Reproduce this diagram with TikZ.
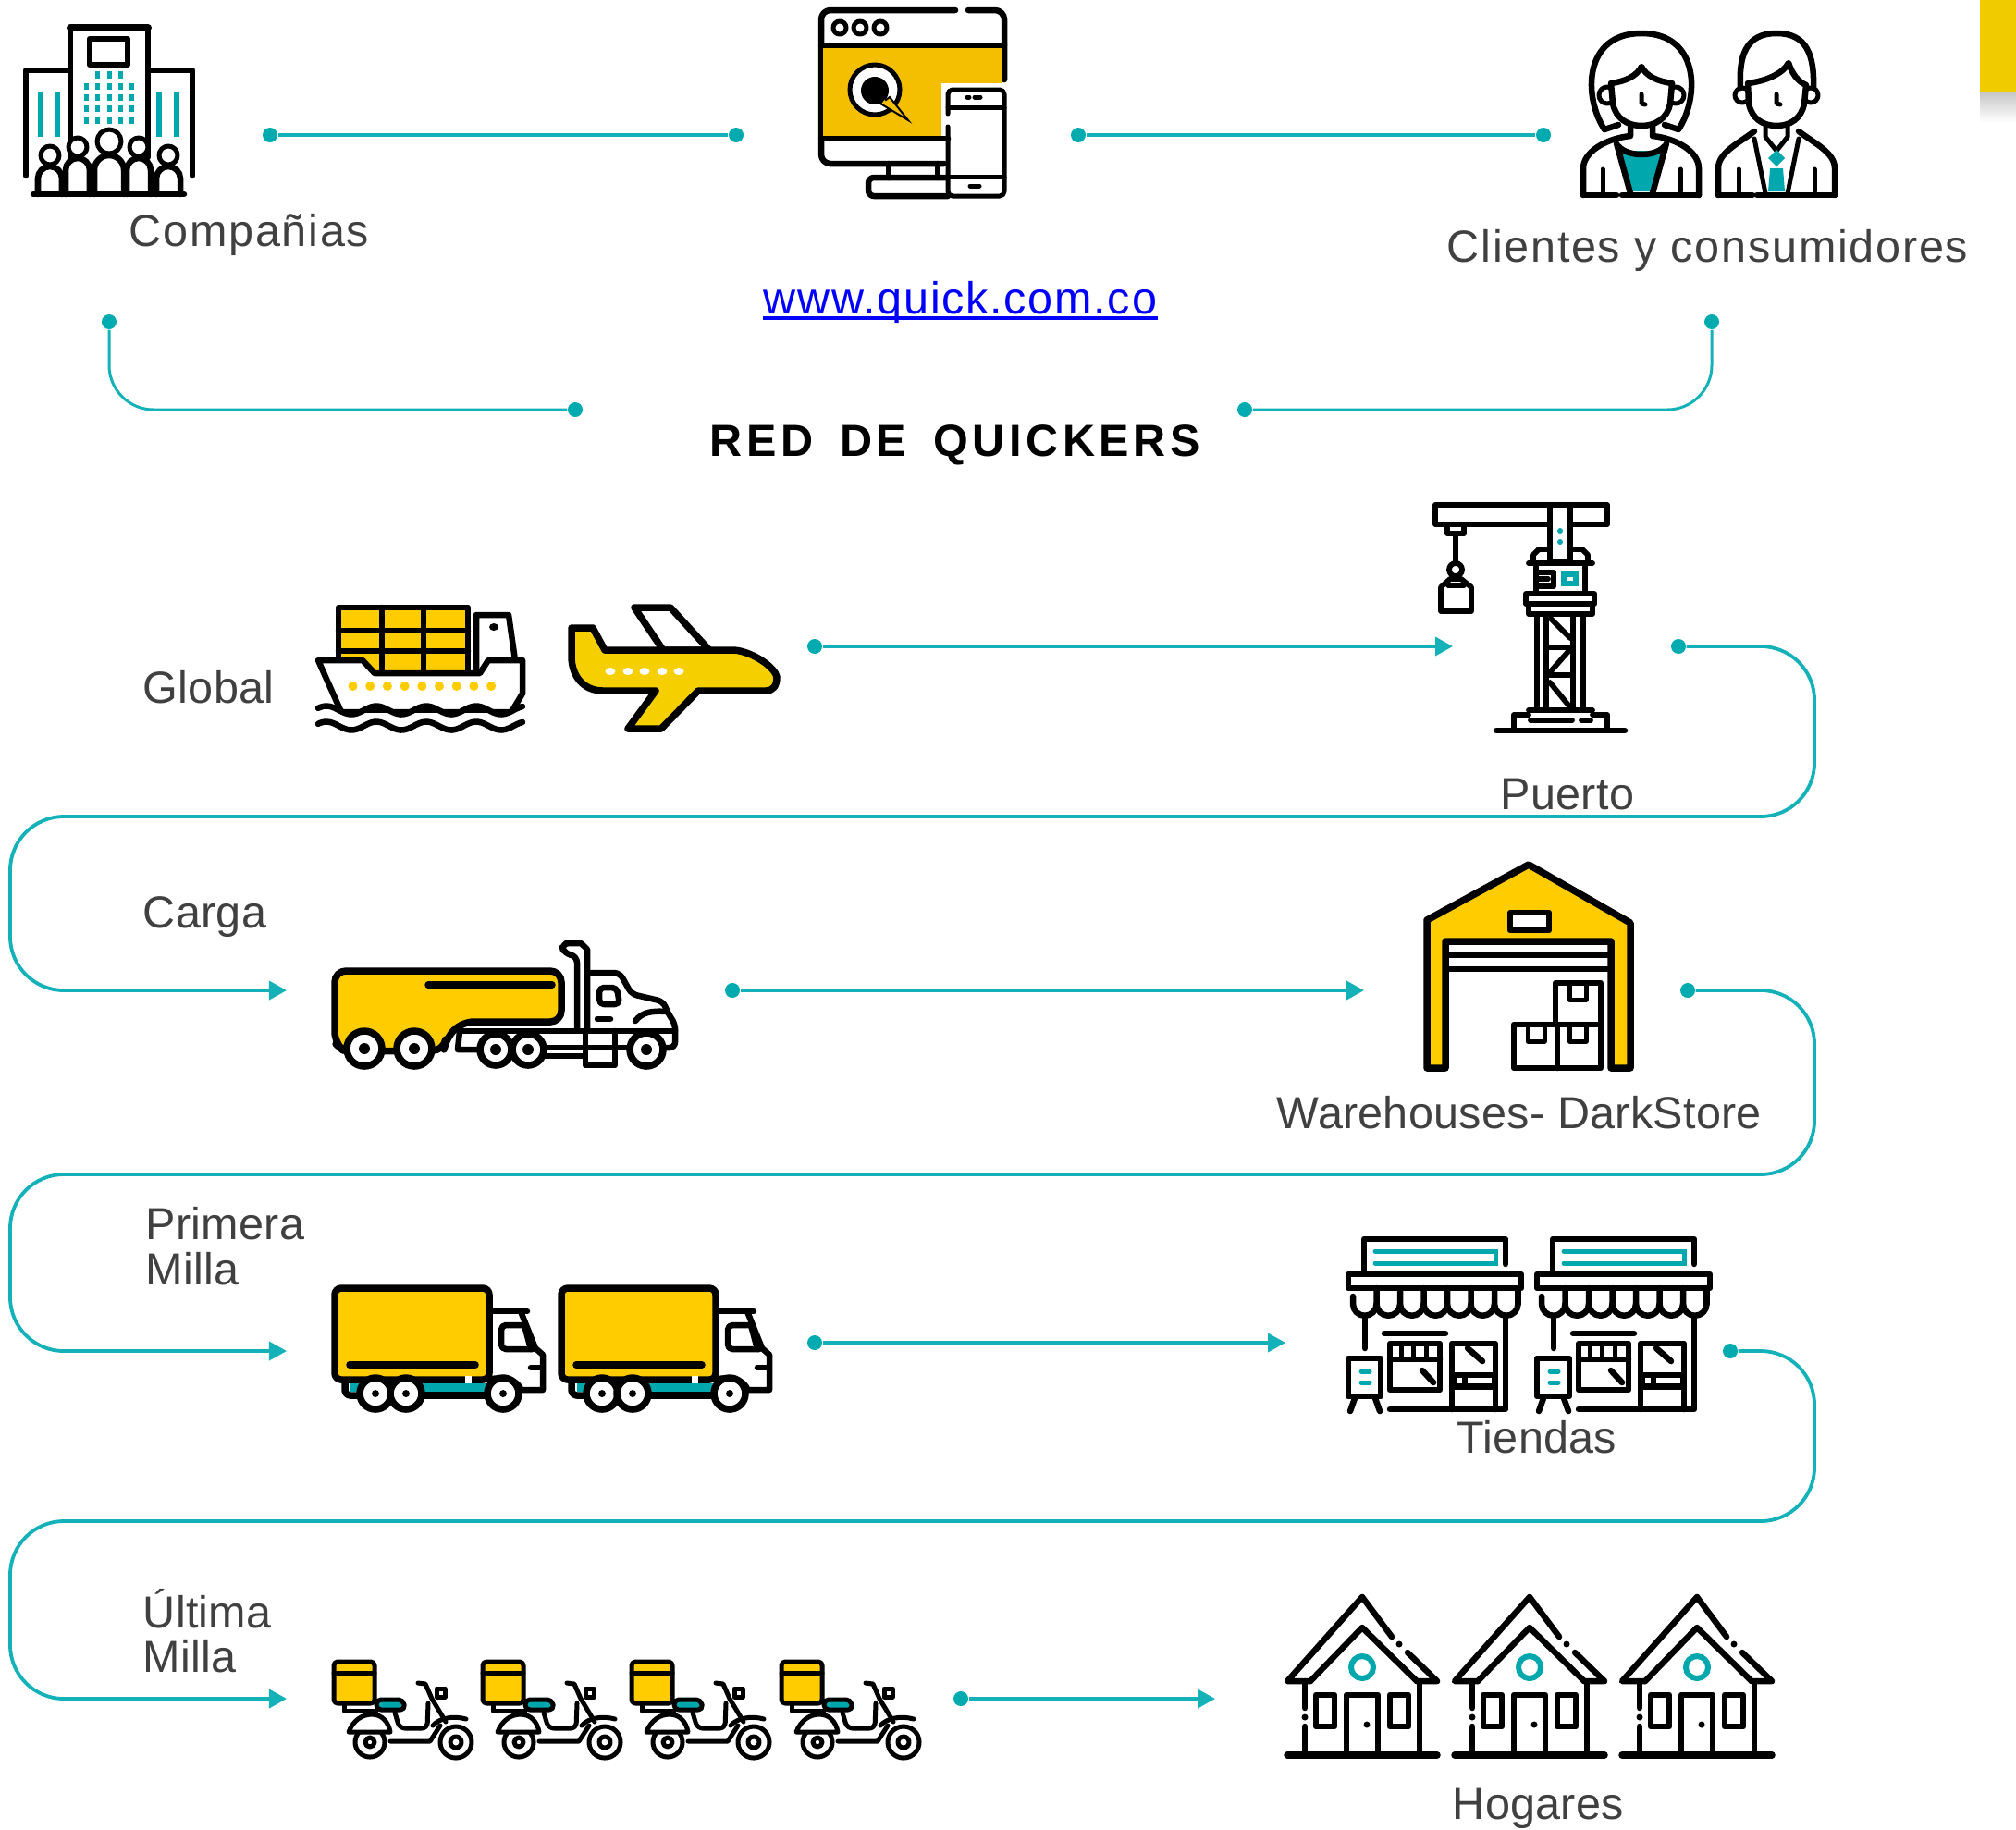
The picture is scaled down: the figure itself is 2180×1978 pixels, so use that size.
\documentclass[tikz,border=0pt]{standalone}
\usepackage{fontspec}
\usepackage{xcolor}
\usetikzlibrary{arrows.meta}
\setmainfont{Liberation Sans}
\newfontfamily\labelfont{Liberation Sans}[LetterSpace=0.6]
\newfontfamily\widefont{Liberation Sans}[LetterSpace=3.6]
\newfontfamily\titlefont{Liberation Sans}[LetterSpace=9.5,WordSpace=1.6]
\definecolor{flowteal}{HTML}{14B2B8}
\definecolor{dotteal}{HTML}{00ABB0}
\definecolor{iconteal}{HTML}{00A7AD}
\definecolor{iconyellow}{HTML}{FFCC00}
\definecolor{planeyellow}{HTML}{F6CF00}
\definecolor{webyellow}{HTML}{F4BF00}
\definecolor{cornerbox}{HTML}{EFCB00}
\definecolor{labelgray}{HTML}{404040}

\tikzset{
  icon/.style={draw=black, line width=0.065cm, line join=round, line cap=round},
  heavyicon/.style={icon, line width=0.075cm},
  crane/.style={icon, line width=0.058cm},
  thinicon/.style={icon, line width=0.05cm},
  flowline/.style={draw=flowteal, line width=0.038cm},
  flowarrow/.style={flowline, -{Triangle[length=0.19cm,width=0.2cm]}},
  dotnode/.style={circle, fill=dotteal, inner sep=0pt, minimum size=0.16cm},
  labelnode/.style={anchor=base west, inner sep=0pt, text=labelgray, font=\labelfont\fontsize{13.8}{14}\selectfont},
  widenode/.style={labelnode, font=\widefont\fontsize{13.8}{14}\selectfont},
}
\newcommand{\wheelicon}[4]{%
  \draw[heavyicon, fill=white] (#1,#2) circle[radius=#3];
  \fill (#1,#2) circle[radius=#4];}

\tikzset{
  building/.pic={
    \draw[icon, fill=white] (28,190) -- (28,76) -- (208,76) -- (208,190);
    \draw[icon, fill=white] (76,170) -- (76,30) -- (160,30) -- (160,170);
    \draw[icon, line width=0.08cm] (76,30) -- (160,30);
    \draw[icon] (97,42) rectangle (138,70);
    \foreach \x in {44,62,172,191} \draw[iconteal, line width=0.06cm] (\x,99) -- (\x,148);
    \foreach \x in {105,118,130} \fill[iconteal] (\x-2.5,77) rectangle (\x+2.5,85);
    \foreach \y in {93,105,117,130} \foreach \x in {93,105,118,130,142}
      \fill[iconteal] (\x-2.5,\y-3.5) rectangle (\x+2.5,\y+3.5);
    \foreach \x/\y/\w/\r in {54/168/13/10, 182/168/13/10, 84/159/13/10, 150/159/13/10, 118/153/16/13} {
      \draw[thinicon, fill=white] (\x,\y) circle[radius=\r];
      \draw[icon, fill=white] (\x-\w,210) -- (\x-\w,\y+\r+\w+2) arc[start angle=180, end angle=360, radius=\w] -- (\x+\w,210);
    }
    \draw[icon] (36,210) -- (199,210);
  },
  webscreen/.pic={
    \draw[icon, rounded corners=0.1cm] (1033,11) -- (888,11) -- (888,177) -- (1021,177);
    \draw[icon, rounded corners=0.1cm] (1047,11) -- (1086,11) -- (1086,86);
    \fill[webyellow] (890,50) rectangle (1084,90);
    \fill[webyellow] (890,90) rectangle (1018,147);
    \draw[icon] (888,49) -- (1086,49);
    \draw[icon] (888,150) -- (1025,150);
    \foreach \x in {908,930,952} \draw[thinicon] (\x,30) circle[radius=7];
    \draw[thinicon, fill=white] (946,97) circle[radius=27];
    \fill (946,98) circle[radius=15];
    \draw[line width=0.02cm, fill=webyellow] (940,86) -- (958,108) -- (962,105) -- (982,130) -- (952,112) -- (955,108) -- cycle;
    % phone
    \draw[thinicon, rounded corners=0.05cm] (1025,123) -- (1025,97) -- (1086,97) -- (1086,212) -- (1025,212) -- (1025,137);
    \draw[thinicon] (1025,116) -- (1086,116);
    \draw[thinicon] (1025,191) -- (1086,191);
    \draw[thinicon] (1046,105) -- (1048,105);
    \draw[thinicon] (1054,105) -- (1060,105);
    \draw[thinicon] (1049,201) -- (1059,201);
    \draw[icon] (961,177) -- (961,192);
    \draw[icon] (1014,177) -- (1014,192);
    \draw[icon, rounded corners=0.06cm] (1025,192) -- (939,192) -- (939,212) -- (1025,212);
  },
  clientes/.pic={
    % woman
    \draw[icon] (1735,140) .. controls (1712,105) and (1712,36) .. (1775,36) .. controls (1838,36) and (1838,105) .. (1815,140) -- (1800,135);
    \draw[icon] (1735,140) -- (1750,135);
    \draw[thinicon] (1738,103) circle[radius=9];
    \draw[thinicon] (1812,103) circle[radius=9];
    \draw[icon, fill=white] (1742,90) .. controls (1758,88) and (1770,82) .. (1775,72) .. controls (1780,82) and (1792,88) .. (1808,90) -- (1806,112) .. controls (1803,128) and (1790,136) .. (1775,136) .. controls (1760,136) and (1747,128) .. (1744,112) -- cycle;
    \draw[thinicon] (1775,102) -- (1775,112) -- (1779,113);
    \fill[iconteal] (1751,163) -- (1799,163) -- (1785,207) -- (1765,207) -- cycle;
    \draw[icon] (1712,211) -- (1712,182) .. controls (1712,165) and (1735,150) .. (1763,147) -- (1763,136);
    \draw[icon] (1837,211) -- (1837,182) .. controls (1837,165) and (1815,150) .. (1787,147) -- (1787,136);
    \draw[icon] (1750,158) .. controls (1760,170) and (1790,170) .. (1800,158);
    \draw[icon] (1748,155) -- (1763,209);
    \draw[icon] (1802,155) -- (1787,209);
    \draw[thinicon] (1733,183) -- (1733,207);
    \draw[thinicon] (1817,183) -- (1817,207);
    \draw[icon] (1712,211) -- (1748,211);
    \draw[icon] (1754,211) -- (1837,211);
    % man
    \draw[icon] (1882,95) .. controls (1880,60) and (1888,36) .. (1921,36) .. controls (1954,36) and (1962,60) .. (1961,95);
    \draw[thinicon] (1884,103) circle[radius=8];
    \draw[thinicon] (1958,103) circle[radius=8];
    \draw[icon, fill=white] (1890,90) .. controls (1908,88) and (1928,80) .. (1934,68) .. controls (1938,80) and (1944,88) .. (1953,92) -- (1951,112) .. controls (1948,128) and (1936,136) .. (1921,136) .. controls (1906,136) and (1894,128) .. (1891,112) -- cycle;
    \draw[thinicon] (1921,102) -- (1921,112) -- (1925,113);
    \draw[icon] (1858,211) -- (1858,182) .. controls (1858,165) and (1880,155) .. (1897,142);
    \draw[icon] (1984,211) -- (1984,182) .. controls (1984,165) and (1962,155) .. (1945,142);
    \draw[thinicon] (1909,136) -- (1909,148) -- (1921,163) -- (1933,148) -- (1933,136);
    \fill[iconteal] (1921,162) -- (1930,171) -- (1921,180) -- (1912,171) -- cycle;
    \fill[iconteal] (1914,182) -- (1928,182) -- (1930,207) -- (1912,207) -- cycle;
    \draw[thinicon] (1897,150) -- (1909,209);
    \draw[thinicon] (1945,150) -- (1933,209);
    \draw[thinicon] (1880,183) -- (1880,207);
    \draw[thinicon] (1962,183) -- (1962,207);
    \draw[icon] (1858,211) -- (1895,211);
    \draw[icon] (1900,211) -- (1984,211);
  },
  containership/.pic={
    \fill[iconyellow] (366,657) rectangle (506,727);
    \draw[icon] (366,727) -- (366,657) -- (506,657) -- (506,727);
    \foreach \x in {413,458} \draw[icon] (\x,657) -- (\x,727);
    \foreach \y in {682,704} \draw[icon] (366,\y) -- (506,\y);
    \draw[icon, fill=white] (515,725) -- (515,665) -- (550,665) -- (557,714);
    \fill (534,678) ellipse[x radius=5, y radius=4];
    \draw[icon, fill=white] (344,714) -- (392,714) -- (405,728) -- (519,728) -- (528,714) -- (565,714) -- (565,750) -- (553,770) -- (369,770) -- cycle;
    \foreach \i in {0,...,8} \fill[iconyellow] ({381.5+18.7*\i},742) circle[radius=5];
    \fill[white] (344,771) rectangle (565,778);
    \foreach \y in {768,785}
      \draw[icon, domain=344:565, samples=70, smooth] plot (\x,{\y+4.5*cos(6.67*(\x-344)+120)});
  },
  airplane/.pic={
    \draw[heavyicon, fill=white] (686,657) -- (725,657) -- (767,703) -- (717,703) -- cycle;
    \draw[heavyicon, fill=planeyellow] (618,679) -- (641,679) -- (654,703) -- (794,703) .. controls (815,705) and (838,722) .. (840,732) .. controls (840,742) and (836,747) .. (828,747) -- (755,747) -- (715,788) -- (679,788) -- (709,747) -- (652,747) .. controls (630,747) and (618,730) .. (618,710) -- cycle;
    \foreach \x in {660,679,697,716,734} \fill[white] (\x,726) ellipse[x radius=5.5, y radius=4];
  },
  portcrane/.pic={
    \draw[crane] (1552,546) rectangle (1738,567);
    \draw[crane, fill=white] (1676,546) rectangle (1698,608);
    \foreach \y in {574,586} \fill[iconteal] (1687,\y) circle[radius=3];
    \draw[crane] (1565,567) -- (1565,577) -- (1583,577) -- (1583,567);
    \draw[crane] (1574,577) -- (1574,609);
    \draw[crane] (1574,616) circle[radius=7];
    \draw[crane, fill=white] (1558,661) -- (1558,635) -- (1568,626) -- (1580,626) -- (1591,635) -- (1591,661) -- cycle;
    \draw[crane] (1566,633) -- (1583,633);
    \draw[crane] (1658,609) -- (1658,600) -- (1664,594) -- (1676,594);
    \draw[crane] (1717,609) -- (1717,600) -- (1711,594) -- (1698,594);
    \draw[crane] (1653,609) -- (1722,609);
    \draw[crane] (1661,609) -- (1661,640);
    \draw[crane] (1714,609) -- (1714,640);
    \fill[iconteal] (1688,618) rectangle (1707,634);
    \fill[white] (1694,624) rectangle (1701,628);
    \draw[crane] (1662,619) -- (1680,619) -- (1680,634) -- (1662,634);
    \draw[crane] (1662,626) -- (1674,626);
    \draw[crane] (1650,642) rectangle (1724,653);
    \draw[crane] (1653,653) rectangle (1722,664);
    \foreach \x in {1662,1672,1701,1712} \draw[crane] (\x,664) -- (\x,768);
    \foreach \y in {700,730} \draw[crane] (1672,\y) -- (1701,\y);
    \draw[crane] (1676,668) -- (1698,690);
    \draw[crane] (1698,702) -- (1676,727);
    \draw[crane] (1676,738) -- (1698,765);
    \draw[crane] (1637,787) -- (1637,773) -- (1653,773);
    \draw[crane] (1738,787) -- (1738,773) -- (1722,773);
    \draw[crane] (1653,768) -- (1722,768);
    \draw[crane] (1655,779) -- (1700,779);
    \draw[crane] (1710,779) -- (1720,779);
    \draw[icon] (1618,790) -- (1757,790);
  },
  tankertruck/.pic={
    % tank
    \draw[heavyicon, fill=iconyellow, rounded corners=0.12cm] (450,1050) -- (607,1050) -- (607,1105) -- (500,1105) -- (482,1123) -- (480,1136) -- (372,1137) -- (362,1128) -- (362,1050) -- cycle;
    \draw[heavyicon] (463,1065) -- (597,1065);
    \wheelicon{394}{1134}{19}{6}
    \wheelicon{448}{1134}{19}{6}
    % cab
    \draw[icon, rounded corners=0.08cm] (624,1113) -- (624,1033) -- (610,1032) -- (607,1020) -- (620,1020) .. controls (628,1020) and (635,1026) .. (635,1035) -- (635,1113);
    \draw[icon, rounded corners=0.06cm] (635,1052) -- (670,1052) -- (683,1075) -- (717,1083) -- (723,1097) -- (730,1107) -- (730,1133) -- (720,1133);
    \draw[icon, rounded corners=0.05cm] (648,1068) -- (667,1068) -- (670,1086) -- (648,1086) -- cycle;
    \draw[icon] (646,1102) -- (660,1102);
    \draw[icon] (687,1104) .. controls (695,1094) and (705,1093) .. (722,1094);
    \draw[icon] (497,1115) -- (730,1115);
    \draw[icon] (497,1115) -- (495,1135) -- (520,1135);
    \draw[icon] (590,1142) -- (630,1142);
    \draw[icon] (590,1133) -- (690,1133);
    \draw[icon] (633,1115) -- (633,1152) -- (665,1152) -- (665,1115);
    \draw[icon] (633,1133) -- (665,1133);
    \wheelicon{536}{1135}{17}{6}
    \wheelicon{571}{1135}{17}{6}
    \wheelicon{699}{1135}{18}{6}
  },
  warehouse/.pic={
    \draw[heavyicon, fill=iconyellow] (1543,995) -- (1653,935) -- (1763,998) -- (1763,1155) -- (1742,1155) -- (1742,1018) -- (1563,1018) -- (1563,1155) -- (1543,1155) -- cycle;
    \draw[icon, fill=white] (1633,987) rectangle (1675,1006);
    \foreach \y in {1033,1048} \draw[icon] (1563,\y) -- (1742,\y);
    \draw[icon] (1682,1108) -- (1682,1063) -- (1731,1063) -- (1731,1155) -- (1637,1155) -- (1637,1108) -- (1731,1108);
    \draw[icon] (1684,1108) -- (1684,1155);
    \draw[thinicon] (1697,1063) -- (1697,1081) -- (1715,1081) -- (1715,1063);
    \draw[thinicon] (1652,1108) -- (1652,1126) -- (1670,1126) -- (1670,1108);
    \draw[thinicon] (1697,1108) -- (1697,1126) -- (1715,1126) -- (1715,1108);
  },
  boxlorry/.pic={
    \draw[heavyicon, rounded corners=0.06cm] (373,1492) -- (373,1509) -- (392,1509);
    \fill[iconteal] (379,1496) rectangle (392,1505);
    \fill[iconteal] (454,1496) rectangle (527,1505);
    \draw[heavyicon] (456,1509) -- (526,1509);
    \draw[heavyicon, fill=iconyellow, rounded corners=0.07cm] (529,1492) -- (529,1393) -- (362,1393) -- (362,1492) -- cycle;
    \draw[heavyicon] (378,1476) -- (514,1476);
    \fill[white] (503,1488) rectangle (510,1496);
    \draw[icon] (531,1418) -- (570,1418);
    \draw[icon] (563,1418) -- (579,1458) -- (587,1465) -- (587,1503) -- (562,1503);
    \draw[icon, rounded corners=0.05cm] (567,1433) -- (542,1433) -- (542,1459) -- (576,1459);
    \draw[icon] (567,1433) -- (574,1459);
    \draw[icon] (574,1479) -- (584,1479);
    \draw[heavyicon] (529,1492) .. controls (550,1488) and (560,1495) .. (563,1503);
    \wheelicon{406}{1507}{17}{4}
    \wheelicon{439}{1507}{17}{4}
    \wheelicon{544}{1507}{17}{4}
  },
  shopfront/.pic={
    \draw[icon] (1475,1377) -- (1475,1340) -- (1628,1340) -- (1628,1367);
    \draw[iconteal, line width=0.05cm, line cap=round] (1487,1353) -- (1617,1353) -- (1617,1366) -- (1487,1366);
    \draw[icon] (1458,1378) rectangle (1645,1393);
    \draw[icon] (1463,1402) -- (1463,1410) arc[start angle=180, end angle=0, radius=12.75];
    \foreach \i in {1,...,6}
      \draw[icon] ({1463+25.5*\i},1393) -- ({1463+25.5*\i},1410) arc[start angle=180, end angle=0, radius=12.75];
    \draw[icon] (1641.5,1393) -- (1641.5,1410);
    \draw[icon] (1476,1423) -- (1476,1458);
    \draw[icon] (1628,1423) -- (1628,1524) -- (1503,1524);
    \draw[icon] (1497,1442) -- (1563,1442);
    \draw[icon] (1503,1453) rectangle (1557,1503);
    \draw[icon] (1503,1470) -- (1557,1470);
    \foreach \x in {1515,1528,1542} \draw[thinicon] (\x,1453) -- (\x,1468);
    \draw[icon] (1538,1482) -- (1550,1495);
    \draw[icon] (1570,1524) -- (1570,1453) -- (1617,1453) -- (1617,1524);
    \draw[icon] (1587,1458) -- (1603,1472);
    \fill (1570,1484) rectangle (1617,1503);
    \fill[white] (1575,1490) rectangle (1581,1496);
    \fill[white] (1587,1490) rectangle (1613,1496);
    \draw[icon] (1458,1469) rectangle (1493,1510);
    \draw[icon] (1465,1512) -- (1460,1526);
    \draw[icon] (1487,1512) -- (1492,1526);
    \foreach \y in {1483,1495} \draw[iconteal, line width=0.05cm, line cap=round] (1472,\y) -- (1481,\y);
  },
  scooter/.pic={
    \draw[thinicon] (372,1844) -- (372,1850) -- (407,1850);
    \draw[thinicon, fill=iconyellow, rounded corners=0.04cm] (361,1797) rectangle (405,1842);
    \draw[thinicon] (361,1809) -- (405,1809);
    \draw[thinicon, rounded corners=0.05cm, fill=iconteal] (407,1838) -- (436,1838) -- (438,1849) -- (407,1849) -- cycle;
    \draw[thinicon, fill=white] (400,1884) circle[radius=16];
    \draw[thinicon] (400,1884) circle[radius=5];
    \draw[thinicon, fill=white] (493,1884) circle[radius=17];
    \draw[thinicon] (493,1884) circle[radius=6];
    \draw[thinicon, fill=white] (377,1873) .. controls (382,1860) and (392,1854) .. (402,1854) .. controls (413,1854) and (420,1862) .. (422,1873) -- cycle;
    \draw[thinicon, rounded corners=0.06cm] (427,1852) -- (432,1869) -- (462,1869) -- (463,1842);
    \draw[thinicon] (422,1883) -- (465,1883) -- (476,1866);
    \draw[thinicon] (452,1820) -- (460,1821) -- (467,1837) -- (482,1862);
    \draw[thinicon] (472,1826) rectangle (481,1835);
    \draw[thinicon] (468,1866) .. controls (475,1858) and (490,1855) .. (504,1859);
  },
  homeicon/.pic={
    \draw[icon] (1473,1727) -- (1392,1818) -- (1417,1818);
    \draw[icon] (1473,1727) -- (1505,1770);
    \draw[icon] (1522,1787) -- (1554,1818) -- (1532,1818);
    \fill (1513,1778) circle[radius=3.5];
    \draw[icon] (1417,1818) -- (1473,1760) -- (1532,1818);
    \draw[icon] (1411,1818) -- (1411,1847);
    \fill (1411,1857) circle[radius=3.5];
    \draw[icon] (1411,1867) -- (1411,1897);
    \draw[icon] (1535,1818) -- (1535,1897);
    \draw[heavyicon] (1392,1898) -- (1554,1898);
    \draw[icon] (1456,1897) -- (1456,1833) -- (1490,1833) -- (1490,1897);
    \fill (1478,1865) circle[radius=3.5];
    \draw[icon] (1423,1833) rectangle (1443,1867);
    \draw[icon] (1503,1833) rectangle (1523,1867);
    \draw[iconteal, line width=0.06cm] (1473,1803) circle[radius=12];
  },
}

\begin{document}
\begin{tikzpicture}[x=0.01cm, y=-0.01cm]
    \useasboundingbox (0,0) rectangle (2180,1978);

    % Corner box
    \shade[top color=black!22, bottom color=white] (2141,100) rectangle (2180,132);
    \fill[cornerbox] (2141,0) rectangle (2180,100);

    % Icons
    \pic at (0,0) {building};
    \pic at (0,0) {webscreen};
    \pic at (0,0) {clientes};
    \pic at (0,0) {containership};
    \pic at (0,0) {airplane};
    \pic at (0,0) {portcrane};
    \pic at (0,0) {tankertruck};
    \pic at (0,0) {warehouse};
    \foreach \x in {0,245} \pic at (\x,0) {boxlorry};
    \foreach \x in {0,204} \pic at (\x,0) {shopfront};
    \foreach \x in {0,161,322,484} \pic at (\x,0) {scooter};
    \foreach \x in {0,181,362} \pic at (\x,0) {homeicon};

    % Labels
    \node[widenode] (companias) at (139,266) {Compañias};
    \node[widenode] (clientes) at (1564,283) {Clientes y consumidores};
    \node[widenode, text=blue] (web) at (825,339) {www.quick.com.co};
    \draw[blue, line width=0.035cm] ([yshift=-0.05cm]web.base west) -- ([yshift=-0.05cm]web.base east);
    \node[anchor=base west, inner sep=0pt, text=black, font=\titlefont\bfseries\fontsize{13.8}{14}\selectfont] (red) at (767,493) {RED DE QUICKERS};
    \node[labelnode] (global) at (154,760) {Global};
    \node[labelnode] (puerto) at (1622,875) {Puerto};
    \node[labelnode] (carga) at (154,1003) {Carga};
    \node[labelnode] (darkstore) at (1380,1220) {Warehouses- DarkStore};
    \node[labelnode] (primera) at (157,1340) {Primera};
    \node[labelnode] (millaa) at (157,1389) {Milla};
    \node[labelnode] (tiendas) at (1575,1571) {Tiendas};
    \node[labelnode] (ultima) at (154,1760) {Última};
    \node[labelnode] (millab) at (154,1808) {Milla};
    \node[labelnode] (hogares) at (1570,1967) {Hogares};

    % Dots
    \node[dotnode] (topa) at (292,146) {};
    \node[dotnode] (topb) at (796,146) {};
    \node[dotnode] (topc) at (1166,146) {};
    \node[dotnode] (topd) at (1669,146) {};
    \node[dotnode] (redla) at (118,348) {};
    \node[dotnode] (redlb) at (622,443) {};
    \node[dotnode] (redra) at (1851,348) {};
    \node[dotnode] (redrb) at (1346,443) {};
    \node[dotnode] (globala) at (881,699) {};
    \node[dotnode] (globalb) at (1815,699) {};
    \node[dotnode] (cargaa) at (792,1071) {};
    \node[dotnode] (cargab) at (1825,1071) {};
    \node[dotnode] (primeraa) at (881,1452) {};
    \node[dotnode] (primerab) at (1871,1461) {};
    \node[dotnode] (ultimaa) at (1039,1837) {};

    % Arrow ends
    \coordinate (globalend) at (1571,699);
    \coordinate (cargain) at (310,1071);
    \coordinate (cargaend) at (1475,1071);
    \coordinate (primerain) at (310,1461);
    \coordinate (primeraend) at (1390,1452);
    \coordinate (ultimain) at (310,1837);
    \coordinate (ultimaend) at (1314,1837);

    % Draw the connectors
    \draw[flowline] (topa) -- (topb);
    \draw[flowline] (topc) -- (topd);
    \draw[flowline, line width=0.03cm, rounded corners=0.48cm] (redla) |- (redlb);
    \draw[flowline, line width=0.03cm, rounded corners=0.48cm] (redra) |- (redrb);
    \draw[flowarrow] (globala) -- (globalend);
    \draw[flowarrow] (cargaa) -- (cargaend);
    \draw[flowarrow] (primeraa) -- (primeraend);
    \draw[flowarrow] (ultimaa) -- (ultimaend);
    \draw[flowarrow, rounded corners=0.58cm] (globalb) -- (1962,699) -- (1962,883) -- (11,883) -- (11,1071) -- (cargain);
    \draw[flowarrow, rounded corners=0.58cm] (cargab) -- (1962,1071) -- (1962,1270) -- (11,1270) -- (11,1461) -- (primerain);
    \draw[flowarrow, rounded corners=0.58cm] (primerab) -- (1962,1461) -- (1962,1645) -- (11,1645) -- (11,1837) -- (ultimain);
\end{tikzpicture}
\end{document}
